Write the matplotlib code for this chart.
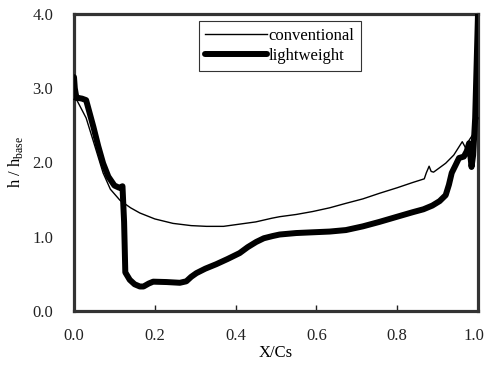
import numpy as np
import matplotlib.pyplot as plt
import matplotlib.transforms as mtransforms

# conventional (thin line)
conv_x = [0.0, 0.007, 0.03, 0.05, 0.072, 0.09, 0.114, 0.14, 0.163, 0.2, 0.245, 0.29, 0.328,
          0.37, 0.41, 0.45, 0.49, 0.509, 0.55, 0.591, 0.633, 0.673, 0.715, 0.756, 0.8,
          0.838, 0.867, 0.872, 0.879, 0.884, 0.89, 0.92, 0.94, 0.961, 0.97, 0.978, 0.99, 1.0]
conv_y = [2.85, 2.84, 2.6, 2.25, 1.86, 1.64, 1.49, 1.39, 1.32, 1.24, 1.18, 1.15, 1.14,
          1.14, 1.17, 1.2, 1.25, 1.27, 1.3, 1.34, 1.39, 1.45, 1.51, 1.585, 1.66,
          1.73, 1.78, 1.86, 1.95, 1.88, 1.87, 1.99, 2.1, 2.28, 2.19, 2.3, 2.4, 2.6]

# lightweight (thick line)
light_x = [0.0, 0.002, 0.006, 0.01, 0.02, 0.03, 0.048, 0.06, 0.072, 0.085, 0.1, 0.112, 0.12,
           0.124, 0.127, 0.138, 0.15, 0.163, 0.172, 0.185, 0.196, 0.229, 0.262, 0.278,
           0.29, 0.303, 0.325, 0.352, 0.38, 0.41, 0.43, 0.451, 0.47, 0.492, 0.509, 0.55,
           0.591, 0.633, 0.673, 0.715, 0.756, 0.8, 0.838, 0.865, 0.887, 0.905,
           0.92, 0.928, 0.935, 0.945, 0.953, 0.965, 0.972, 0.978, 0.981, 0.984, 0.988,
           0.993, 0.997, 1.0]
light_y = [3.15, 3.0, 2.87, 2.87, 2.86, 2.84, 2.48, 2.22, 1.99, 1.81, 1.69, 1.66, 1.68,
           1.2, 0.52, 0.42, 0.36, 0.33, 0.33, 0.37, 0.395, 0.39, 0.38, 0.4,
           0.46, 0.51, 0.57, 0.63, 0.7, 0.78, 0.86, 0.93, 0.98, 1.01, 1.03, 1.05,
           1.06, 1.07, 1.09, 1.14, 1.2, 1.27, 1.33, 1.37, 1.42, 1.48,
           1.56, 1.7, 1.86, 1.97, 2.06, 2.08, 2.15, 2.26, 2.1, 1.94, 2.1,
           2.6, 3.4, 4.0]

xticks = [0.0, 0.2, 0.4, 0.6, 0.8, 1.0]
yticks = [0.0, 1.0, 2.0, 3.0, 4.0]

plt.rcParams['font.family'] = ['Liberation Serif', 'DejaVu Serif']
plt.rcParams['mathtext.fontset'] = 'custom'
plt.rcParams['mathtext.rm'] = 'Liberation Serif'

fs = 12
fig = plt.figure(figsize=(4.87, 3.68), dpi=100)
ax = fig.add_axes([74 / 487, 1 - 311 / 368, (478 - 74) / 487, (311 - 14) / 368])

ax.plot(conv_x, conv_y, color='black', lw=1.0, label='conventional', clip_on=False, zorder=3)
ax.plot(light_x, light_y, color='black', lw=4.3, label='lightweight',
        solid_capstyle='round', solid_joinstyle='round', zorder=4)

ax.set_xlim(0, 1.0)
ax.set_ylim(0, 4.0)
ax.set_xticks(xticks)
ax.set_xticklabels([f'{v:.1f}' for v in xticks])
ax.set_yticks(yticks)
ax.set_yticklabels([f'{v:.1f}' for v in yticks])
ax.tick_params(axis='x', direction='in', length=4, width=1, pad=12, labelsize=fs, colors='#222222')
ax.tick_params(axis='y', direction='in', length=0, pad=15, labelsize=fs, colors='#222222')

# nudge the last x label left so it stays inside the image
last = ax.get_xticklabels()[-1]
last.set_transform(last.get_transform() + mtransforms.ScaledTranslation(-3 / 72, 0, fig.dpi_scale_trans))

for s in ax.spines.values():
    s.set_linewidth(2.3)
    s.set_color('#333333')

ax.set_xlabel('X/Cs', fontsize=fs, labelpad=1)
ax.set_ylabel(r'h / h$_\mathregular{base}$', fontsize=fs, labelpad=5)

leg = ax.legend(loc='upper center', bbox_to_anchor=(0.51, 0.975), fontsize=fs,
                frameon=True, fancybox=False, edgecolor='#333333', framealpha=1,
                handlelength=3.7, handletextpad=0.1, borderpad=0.4, labelspacing=0.25,
                borderaxespad=0)
leg.get_frame().set_linewidth(0.8)

fig.savefig('out.png', dpi=100)
